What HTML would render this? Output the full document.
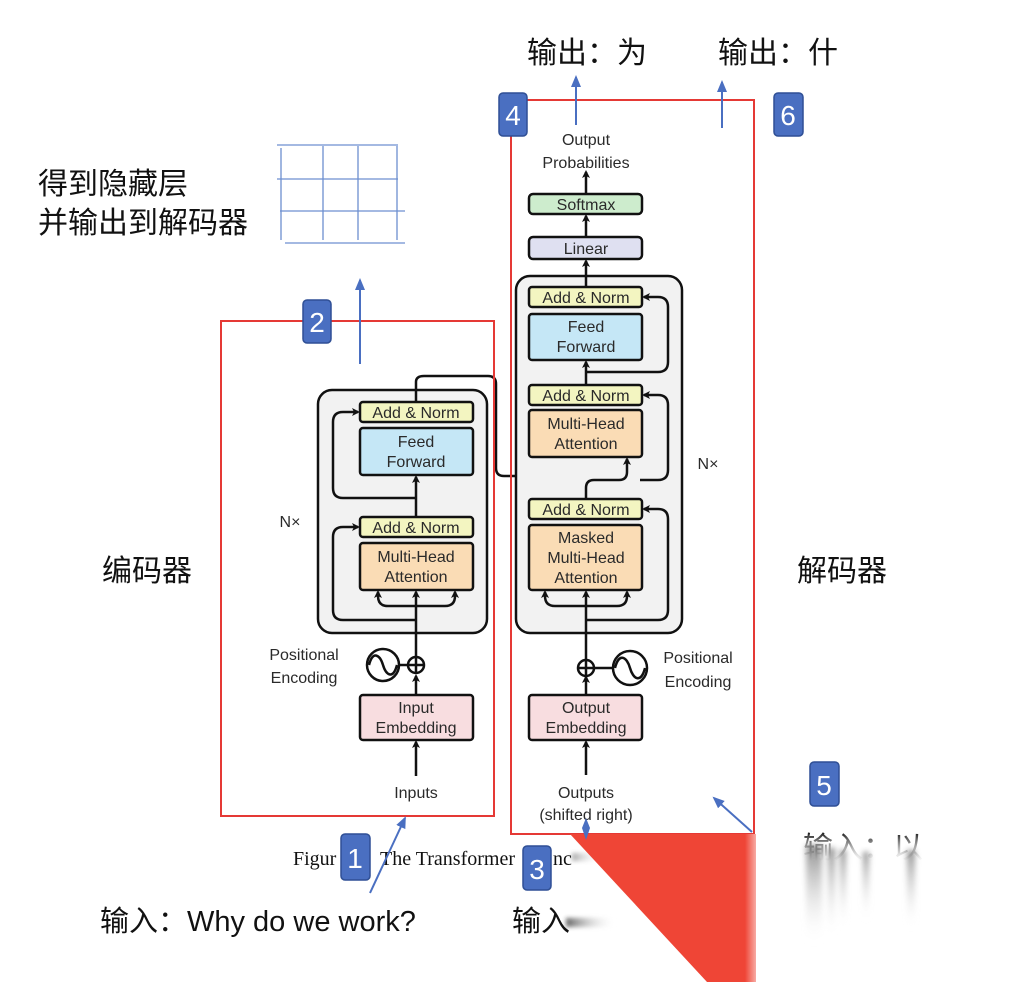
<!DOCTYPE html>
<html><head><meta charset="utf-8"><style>
body{margin:0;background:#fff;}
svg{display:block}
.t{font-family:"Liberation Sans",sans-serif;fill:#2a2a2a;font-size:16px;text-anchor:middle}
.c{font-family:"Liberation Sans","Noto Sans CJK SC",sans-serif;fill:#111}
.b{fill:#4a6fc1;stroke:#2f4f95;stroke-width:1.5}
.bn{font-family:"Liberation Sans",sans-serif;fill:#fff;font-size:28px;text-anchor:middle}
.bx{stroke:#111;stroke-width:2.5}
.ln{stroke:#111;stroke-width:2.5;fill:none}
.bl{stroke:#4a6fc1;stroke-width:2;fill:none}
</style></head><body>
<svg width="1032" height="982" viewBox="0 0 1032 982" xmlns="http://www.w3.org/2000/svg">
<defs>
<marker id="a" markerWidth="8" markerHeight="8" refX="6" refY="4" orient="auto" markerUnits="userSpaceOnUse"><path d="M0,0 L8,4 L0,8 L2,4z" fill="#111"/></marker>
<marker id="ab" markerWidth="12" markerHeight="12" refX="10" refY="6" orient="auto" markerUnits="userSpaceOnUse"><path d="M0,1 L12,6 L0,11z" fill="#4a6fc1"/></marker>
<linearGradient id="rg" x1="0" x2="1"><stop offset="0.6" stop-color="#fff" stop-opacity="0"/><stop offset="1" stop-color="#fff"/></linearGradient>
<linearGradient id="sh" x1="0" y1="0" x2="0" y2="1"><stop offset="0" stop-color="#333"/><stop offset="1" stop-color="#fff" stop-opacity="0"/></linearGradient>
<linearGradient id="tx" x1="0" y1="0" x2="0" y2="1"><stop offset="0" stop-color="#111"/><stop offset="0.6" stop-color="#888" stop-opacity="0.4"/><stop offset="1" stop-color="#fff" stop-opacity="0"/></linearGradient>
<linearGradient id="sh2" x1="0" x2="1"><stop offset="0" stop-color="#222"/><stop offset="1" stop-color="#fff" stop-opacity="0"/></linearGradient>
<filter id="bl" x="-50%" y="-20%" width="200%" height="140%"><feGaussianBlur stdDeviation="3"/></filter>
<filter id="bl2" x="-20%" y="-50%" width="140%" height="200%"><feGaussianBlur stdDeviation="2"/></filter>
</defs>

<!-- grid -->
<g stroke="#6d8fd0" stroke-width="1.3">
<line x1="277" y1="145" x2="398" y2="145"/><line x1="277" y1="179" x2="398" y2="179"/><line x1="280" y1="211" x2="405" y2="211"/><line x1="285" y1="243" x2="405" y2="243"/>
<line x1="281" y1="148" x2="281" y2="240"/><line x1="323" y1="146" x2="323" y2="240"/><line x1="358" y1="146" x2="358" y2="240"/><line x1="397" y1="146" x2="397" y2="240"/>
</g>
<text class="c" x="38" y="194" font-size="30">得到隐藏层</text>
<text class="c" x="38" y="233" font-size="30">并输出到解码器</text>
<text class="c" x="102" y="581" font-size="30">编码器</text>
<text class="c" x="797" y="581" font-size="30">解码器</text>
<text class="c" x="527" y="63" font-size="30">输出：为</text>
<text class="c" x="718" y="63" font-size="30">输出：什</text>
<text class="c" x="100" y="931" font-size="29">输入：Why do we work?</text>
<text class="c" x="512" y="931" font-size="29">输入</text>
<text x="293" y="865" font-family="Liberation Serif,serif" font-size="20" fill="#111">Figur</text>
<text x="380" y="865" font-family="Liberation Serif,serif" font-size="20" fill="#111">The Transformer</text>
<text x="553" y="865" font-family="Liberation Serif,serif" font-size="20" fill="#111">nc</text>
<rect x="572" y="853" width="30" height="8" fill="url(#sh2)" opacity="0.4" filter="url(#bl2)"/>
<rect x="566" y="918" width="50" height="9" fill="url(#sh2)" opacity="0.7" filter="url(#bl2)"/>

<!-- encoder block -->
<rect x="318" y="390" width="169" height="243" rx="14" fill="#f2f2f2" class="bx"/>
<rect x="360" y="402" width="113" height="20" rx="3" fill="#f3f5c1" class="bx"/><text class="t" x="416" y="418">Add &amp; Norm</text>
<rect x="360" y="428" width="113" height="47" rx="3" fill="#c5e7f6" class="bx"/><text class="t" x="416" y="447">Feed</text><text class="t" x="416" y="467">Forward</text>
<rect x="360" y="517" width="113" height="20" rx="3" fill="#f3f5c1" class="bx"/><text class="t" x="416" y="533">Add &amp; Norm</text>
<rect x="360" y="543" width="113" height="47" rx="3" fill="#fadcb5" class="bx"/><text class="t" x="416" y="562">Multi-Head</text><text class="t" x="416" y="582">Attention</text>
<path class="ln" d="M416,633 V606 M416,620 V592" marker-end="url(#a)"/>
<path class="ln" d="M416,606 H388 Q378,606 378,596 V592" marker-end="url(#a)"/>
<path class="ln" d="M416,606 H445 Q455,606 455,596 V592" marker-end="url(#a)"/>
<path class="ln" d="M416,620 H343 Q333,620 333,610 V537 Q333,527 343,527 H358" marker-end="url(#a)"/>
<path class="ln" d="M416,517 V477" marker-end="url(#a)"/>
<path class="ln" d="M416,498 H343 Q333,498 333,488 V422 Q333,412 343,412 H358" marker-end="url(#a)"/>
<path class="ln" d="M416,402 V382 Q416,376 424,376 H488 Q496,376 496,384 V468 Q496,476 504,476 H535 Q543,476 543,468 V459" marker-end="url(#a)"/>
<path class="ln" d="M543,476 H578 Q586,476 586,468 V459" marker-end="url(#a)"/>
<text class="t" x="290" y="527" font-size="17">N×</text>
<!-- encoder pos enc -->
<path class="ln" d="M416,695 V676" marker-end="url(#a)"/>
<path class="ln" d="M416,657 V633"/>
<circle cx="416" cy="665" r="8" fill="#fff" class="bx"/><path class="ln" d="M408,665 H424 M416,657 V673" stroke-width="1.8"/>
<line class="ln" x1="398" y1="665" x2="408" y2="665"/>
<circle cx="383" cy="665" r="16" fill="#fff" class="bx"/><path class="ln" d="M369,665 C373,650 380,655 383,665 C386,675 393,680 397,665" stroke-width="1.8"/>
<text class="t" x="304" y="660" font-size="18">Positional</text><text class="t" x="304" y="683" font-size="18">Encoding</text>
<rect x="360" y="695" width="113" height="45" rx="3" fill="#f8dde0" class="bx"/><text class="t" x="416" y="713">Input</text><text class="t" x="416" y="733">Embedding</text>
<path class="ln" d="M416,776 V742" marker-end="url(#a)"/>
<text class="t" x="416" y="798" font-size="19">Inputs</text>

<!-- decoder block -->
<rect x="516" y="276" width="166" height="357" rx="14" fill="#f2f2f2" class="bx"/>
<rect x="529" y="287" width="113" height="20" rx="3" fill="#f3f5c1" class="bx"/><text class="t" x="586" y="303">Add &amp; Norm</text>
<rect x="529" y="314" width="113" height="46" rx="3" fill="#c5e7f6" class="bx"/><text class="t" x="586" y="332">Feed</text><text class="t" x="586" y="352">Forward</text>
<rect x="529" y="385" width="113" height="20" rx="3" fill="#f3f5c1" class="bx"/><text class="t" x="586" y="401">Add &amp; Norm</text>
<rect x="529" y="410" width="113" height="47" rx="3" fill="#fadcb5" class="bx"/><text class="t" x="586" y="429">Multi-Head</text><text class="t" x="586" y="449">Attention</text>
<rect x="529" y="499" width="113" height="20" rx="3" fill="#f3f5c1" class="bx"/><text class="t" x="586" y="515">Add &amp; Norm</text>
<rect x="529" y="525" width="113" height="65" rx="3" fill="#fadcb5" class="bx"/><text class="t" x="586" y="543">Masked</text><text class="t" x="586" y="563">Multi-Head</text><text class="t" x="586" y="583">Attention</text>
<path class="ln" d="M586,633 V592" marker-end="url(#a)"/>
<path class="ln" d="M586,606 H555 Q545,606 545,596 V592" marker-end="url(#a)"/>
<path class="ln" d="M586,606 H617 Q627,606 627,596 V592" marker-end="url(#a)"/>
<path class="ln" d="M586,620 H658 Q668,620 668,610 V519 Q668,509 658,509 H644" marker-end="url(#a)"/>
<path class="ln" d="M586,499 V488 Q586,480 594,480 H619 Q627,480 627,472 V459" marker-end="url(#a)"/>
<path class="ln" d="M640,480 H658 Q668,480 668,470 V405 Q668,395 658,395 H644" marker-end="url(#a)"/>
<path class="ln" d="M586,385 V362" marker-end="url(#a)"/>
<path class="ln" d="M586,372 H658 Q668,372 668,362 V307 Q668,297 658,297 H644" marker-end="url(#a)"/>
<path class="ln" d="M586,287 V261" marker-end="url(#a)"/>
<text class="t" x="708" y="469" font-size="17">N×</text>
<rect x="529" y="237" width="113" height="22" rx="4" fill="#dfe0f1" class="bx"/><text class="t" x="586" y="254">Linear</text>
<path class="ln" d="M586,237 V216" marker-end="url(#a)"/>
<rect x="529" y="194" width="113" height="20" rx="4" fill="#cdeccd" class="bx"/><text class="t" x="586" y="210">Softmax</text>
<path class="ln" d="M586,194 V172" marker-end="url(#a)"/>
<text class="t" x="586" y="145" font-size="18.5">Output</text><text class="t" x="586" y="168" font-size="18.5">Probabilities</text>
<!-- decoder pos enc -->
<path class="ln" d="M586,695 V677" marker-end="url(#a)"/>
<path class="ln" d="M586,660 V633"/>
<circle cx="586" cy="668" r="8" fill="#fff" class="bx"/><path class="ln" d="M578,668 H594 M586,660 V676" stroke-width="1.8"/>
<line class="ln" x1="594" y1="668" x2="614" y2="668"/>
<circle cx="630" cy="668" r="17" fill="#fff" class="bx"/><path class="ln" d="M615,668 C619,652 627,657 630,668 C633,679 641,684 645,668" stroke-width="1.8"/>
<text class="t" x="698" y="663" font-size="18">Positional</text><text class="t" x="698" y="687" font-size="18">Encoding</text>
<rect x="529" y="695" width="113" height="45" rx="3" fill="#f8dde0" class="bx"/><text class="t" x="586" y="713">Output</text><text class="t" x="586" y="733">Embedding</text>
<path class="ln" d="M586,775 V742" marker-end="url(#a)"/>
<text class="t" x="586" y="798" font-size="18.5">Outputs</text><text class="t" x="586" y="820" font-size="18.5">(shifted right)</text>

<!-- red frames -->
<rect x="221" y="321" width="273" height="495" fill="none" stroke="#e53935" stroke-width="2"/>
<rect x="511" y="100" width="243" height="734" fill="none" stroke="#e53935" stroke-width="2"/>
<polygon points="570,834 756,834 756,982 707,982" fill="#ef4536"/>
<rect x="715" y="834" width="50" height="148" fill="url(#rg)"/>
<!-- shadow text -->
<text x="803" y="858" font-size="30" font-family="Liberation Sans,Noto Sans CJK SC,sans-serif" fill="url(#tx)">输入：以</text>
<g opacity="0.55" filter="url(#bl)">
<rect x="806" y="845" width="16" height="100" fill="url(#sh)"/>
<rect x="828" y="848" width="7" height="90" fill="url(#sh)"/>
<rect x="840" y="850" width="6" height="80" fill="url(#sh)"/>
<rect x="863" y="852" width="6" height="70" fill="url(#sh)"/>
<rect x="907" y="850" width="8" height="80" fill="url(#sh)"/>
</g>

<!-- blue arrows -->
<path class="bl" d="M360,364 V280" marker-end="url(#ab)"/>
<path class="bl" d="M576,125 V77" marker-end="url(#ab)"/>
<path class="bl" d="M722,128 V82" marker-end="url(#ab)"/>
<path class="bl" d="M370,893 L405,818" stroke-width="1.2" marker-end="url(#ab)"/>
<path class="bl" d="M752,832 L714,798" marker-end="url(#ab)"/>
<polygon points="582,828 586,818 590,828 586,840" fill="#4a6fc1"/>

<!-- badges -->
<rect class="b" x="303" y="300" width="28" height="43" rx="4"/><text class="bn" x="317" y="332">2</text>
<rect class="b" x="341" y="834" width="29" height="46" rx="4"/><text class="bn" x="355" y="868">1</text>
<rect class="b" x="523" y="846" width="28" height="44" rx="4"/><text class="bn" x="537" y="879">3</text>
<rect class="b" x="499" y="93" width="28" height="43" rx="4"/><text class="bn" x="513" y="125">4</text>
<rect class="b" x="810" y="762" width="29" height="44" rx="4"/><text class="bn" x="824" y="795">5</text>
<rect class="b" x="774" y="93" width="29" height="43" rx="4"/><text class="bn" x="788" y="125">6</text>
</svg>
</body></html>
